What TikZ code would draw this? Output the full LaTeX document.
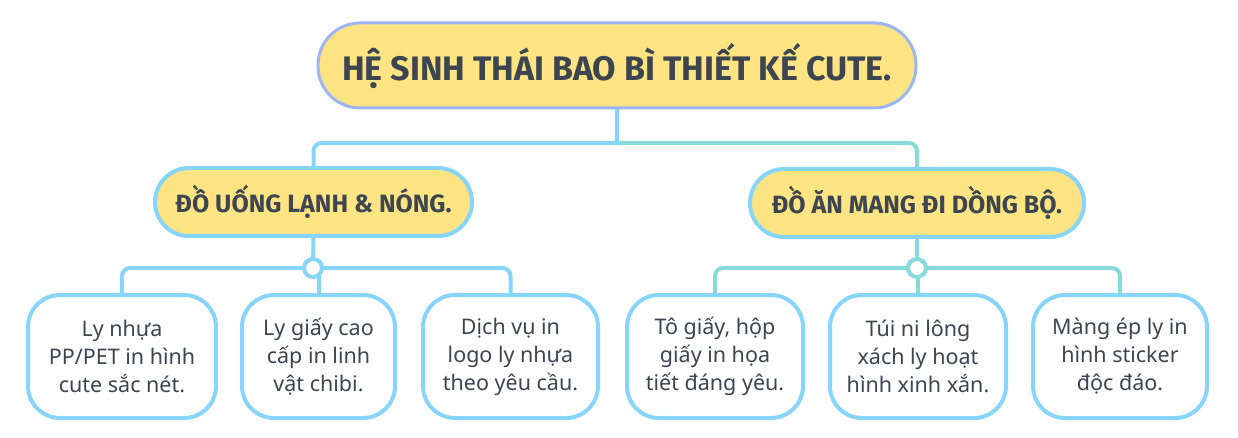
\documentclass[tikz,border=0pt]{standalone}
\usepackage{fontspec}
\setmainfont{Noto Sans}
\newfontfamily\headfont{Fira Sans}
\definecolor{cyel}{HTML}{FFE483}
\definecolor{cblue}{HTML}{87D4FD}
\definecolor{cteal}{HTML}{86DAD8}
\definecolor{croot}{HTML}{9DB5F7}
\definecolor{ctext}{HTML}{3D4550}
\begin{document}
\begin{tikzpicture}[x=1pt,y=-1pt,
  rootbox/.style={draw=croot,line width=3pt,fill=cyel,rounded corners=42pt,
    minimum width=598pt,minimum height=85pt,inner sep=0pt,text=ctext,
    font=\headfont\bfseries\fontsize{34}{40}\selectfont},
  branchbox/.style={draw=cblue,line width=4pt,fill=cyel,rounded corners=34pt,
    minimum height=68pt,inner sep=0pt,text=ctext,
    font=\headfont\bfseries\fontsize{25}{30}\selectfont},
  leafbox/.style={draw=cblue,line width=4pt,fill=white,rounded corners=32pt,
    minimum height=123pt,inner sep=0pt,text=ctext,align=center,
    font=\fontsize{21.5}{28}\selectfont},
  conn/.style={line width=4pt,rounded corners=8pt},
  hub/.style={circle,line width=4pt,fill=white,minimum size=18pt,inner sep=0pt}
]
\useasboundingbox (0,0) rectangle (1238,438);
\node[rootbox] (root) at (617,65.5) {HỆ SINH THÁI BAO BÌ THIẾT KẾ CUTE.};
\node[branchbox,minimum width=317pt] (b1) at (313.5,202) {ĐỒ UỐNG LẠNH \& NÓNG.};
\node[branchbox,minimum width=334pt] (b2) at (917,203) {ĐỒ ĂN MANG ĐI DỒNG BỘ.};
\coordinate (split) at (617,143);
% top connectors
\draw[conn,cblue] (root.south) -- (split);
\draw[conn,cblue] (split) -| (b1.north);
\draw[conn,cteal] (split) -| (b2.north);
\draw[conn,cblue] (split) -- ++(0,-2);
% leaves
\node[leafbox,minimum width=188pt] (l1) at (122,356.5) {Ly nhựa\\PP/PET in hình\\cute sắc nét.};
\node[leafbox,minimum width=153pt] (l2) at (318.5,356.5) {Ly giấy cao\\cấp in linh\\vật chibi.};
\node[leafbox,minimum width=175pt] (l3) at (510.5,356.5) {Dịch vụ in\\logo ly nhựa\\theo yêu cầu.};
\node[leafbox,minimum width=176pt] (l4) at (715,356.5) {Tô giấy, hộp\\giấy in họa\\tiết đáng yêu.};
\node[leafbox,minimum width=176pt] (l5) at (918,356.5) {Túi ni lông\\xách ly hoạt\\hình xinh xắn.};
\node[leafbox,minimum width=174pt] (l6) at (1120,356.5) {Màng ép ly in\\hình sticker\\độc đáo.};
% hubs
\coordinate (h1c) at (313,268);
\coordinate (h2c) at (917,268);
\draw[conn,cblue] (b1.south) -- (h1c);
\draw[conn,cblue] (h1c) -| (l1.north);
\draw[conn,cblue] (h1c) -| (l3.north);
\draw[conn,cblue] (h1c -| l2.north) -- (l2.north);
\draw[conn,cteal] (b2.south) -- (h2c);
\draw[conn,cteal] (h2c) -| (l4.north);
\draw[conn,cteal] (h2c) -| (l6.north);
\draw[conn,cteal] (h2c -| l5.north) -- (l5.north);
\node[hub,draw=cblue] (h1) at (h1c) {};
\node[hub,draw=cteal] (h2) at (h2c) {};
\end{tikzpicture}
\end{document}
